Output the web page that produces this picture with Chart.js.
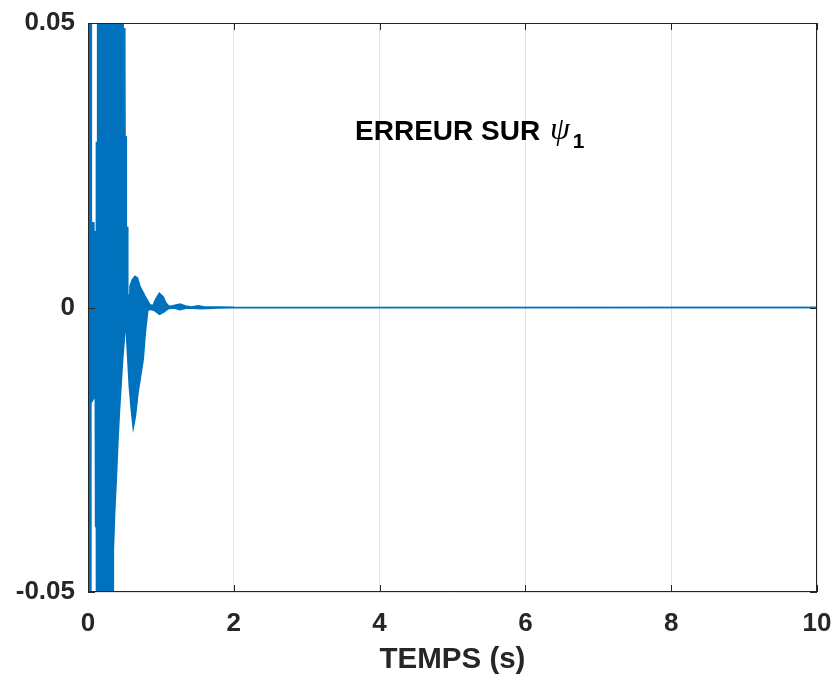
<!DOCTYPE html>
<html>
<head>
<meta charset="utf-8">
<script src="https://cdn.jsdelivr.net/npm/chart.js@4"></script>
<style>
	html, body { margin: 0; padding: 0; background: #ffffff; }
	#wrap { width: 839px; height: 681px; }
</style>
</head>
<body>
<div id="wrap"><canvas id="erreur_psi1"></canvas></div>
<script>
// enveloppe haute de l'erreur (temps en s, erreur)
const tempsHaut = [0, 0.042, 0.046, 0.080, 0.083, 0.112, 0.115, 0.128, 0.132, 0.480, 0.483, 0.505, 0.508, 0.523, 0.526, 0.543, 0.546, 0.565,
	0.576, 0.604, 0.645, 0.680, 0.713, 0.782, 0.850, 0.892, 0.919, 0.978, 1.030, 1.070, 1.110, 1.166, 1.262, 1.358, 1.420, 1.510, 1.600, 1.810, 2.000, 10];
const erreurHaut = [0.09, 0.09, 0.0149, 0.0149, 0.0133, 0.0133, 0.029, 0.029, 0.09, 0.09, 0.049, 0.049, 0.030, 0.030, 0.0141, 0.0141, 0.0022, 0.0022,
	0.0037, 0.0048, 0.0055, 0.0052, 0.0037, 0.0020, 0.0005, 0.0003, 0.0012, 0.0025, 0.0019, 0.0008, 0.0002, 0.0003, 0.0006, 0.0002, 0.0001, 0.0003, 0.0001, 0.0001, 0.00003, 0];

// enveloppe basse
const tempsBas = [0, 0.037, 0.040, 0.100, 0.104, 0.115, 0.118, 0.345, 0.348, 0.366, 0.390, 0.410, 0.430, 0.452, 0.475, 0.497, 0.520,
	0.540, 0.567, 0.594, 0.620, 0.650, 0.686, 0.720, 0.757, 0.786, 0.820, 0.860, 0.920, 0.980, 1.040, 1.100, 1.180, 1.260, 1.360, 1.550, 1.800, 2.000, 10];
const erreurBas = [-0.09, -0.09, -0.0168, -0.0155, -0.0385, -0.0385, -0.09, -0.09, -0.0426, -0.036, -0.0297, -0.0236, -0.0186, -0.014, -0.0092, -0.0057, -0.0025,
	-0.0078, -0.014, -0.018, -0.0212, -0.0192, -0.015, -0.0122, -0.0092, -0.0045, -0.0005, -0.0003, -0.0006, -0.0012, -0.0008, -0.0002, -0.0001, -0.0004, -0.0001, -0.0002, -0.0001, -0.00003, 0];

const xTicks = [0, 2, 4, 6, 8, 10];
const xTickLabels = ['0', '2', '4', '6', '8', '10'];
const yTicks = [-0.05, 0, 0.05];
const yTickLabels = ['-0.05', '0', '0.05'];

const titreX = 'TEMPS (s)';
const texteErreur = 'ERREUR SUR ';
const texteX = 3.663;   // position du texte en coordonnees des donnees
const texteY = 0.0294;

const bleu = '#0072BD';
const gris = '#262626';

function toPoints(xs, ys) {
	const pts = [];
	for (let i = 0; i < xs.length; i++) {
		pts.push({ x: xs[i], y: ys[i] });
	}
	return pts;
}

// boite autour des axes + graduations vers l'interieur + texte
const boxPlugin = {
	id: 'boxPlugin',
	afterDatasetsDraw(chart) {
		const { ctx, chartArea: { left, right, top, bottom }, scales: { x, y } } = chart;
		ctx.save();

		// texte "ERREUR SUR psi_1"
		const tx = x.getPixelForValue(texteX);
		const ty = y.getPixelForValue(texteY);
		ctx.fillStyle = '#000000';
		ctx.textBaseline = 'alphabetic';
		ctx.textAlign = 'left';
		ctx.font = 'bold 28px "Liberation Sans", Arial, sans-serif';
		ctx.fillText(texteErreur, tx, ty);
		let w = ctx.measureText(texteErreur).width + 2;
		ctx.font = 'italic 32px "Liberation Serif", "Times New Roman", serif';
		ctx.fillText('\u03C8', tx + w, ty - 1);
		w += ctx.measureText('\u03C8').width + 3;
		ctx.font = 'bold 21px "Liberation Sans", Arial, sans-serif';
		ctx.fillText('1', tx + w, ty + 8);

		// cadre
		ctx.strokeStyle = gris;
		ctx.lineWidth = 1;
		ctx.strokeRect(Math.round(left) + 0.5, Math.round(top) + 0.5, Math.round(right - left) - 1, Math.round(bottom - top) - 1);

		// graduations
		ctx.beginPath();
		xTicks.forEach(v => {
			const px = Math.round(x.getPixelForValue(v)) + 0.5;
			ctx.moveTo(px, bottom); ctx.lineTo(px, bottom - 7);
			ctx.moveTo(px, top); ctx.lineTo(px, top + 7);
		});
		yTicks.forEach(v => {
			const py = Math.round(y.getPixelForValue(v)) + 0.5;
			ctx.moveTo(left, py); ctx.lineTo(left + 7, py);
			ctx.moveTo(right, py); ctx.lineTo(right - 7, py);
		});
		ctx.stroke();
		ctx.restore();
	}
};

const ctx = document.getElementById('erreur_psi1').getContext('2d');
new Chart(ctx, {
	type: 'line',
	data: {
		datasets: [
			{
				data: toPoints(tempsHaut, erreurHaut),
				borderColor: bleu,
				borderWidth: 1.5,
				pointRadius: 0,
				tension: 0,
				fill: false,
				clip: 0
			},
			{
				data: toPoints(tempsBas, erreurBas),
				borderColor: bleu,
				borderWidth: 1.5,
				backgroundColor: bleu,
				pointRadius: 0,
				tension: 0,
				fill: '-1', // remplit entre les deux enveloppes
				clip: 0
			}
		]
	},
	options: {
		responsive: true,
		maintainAspectRatio: false,
		animation: false,
		events: [],
		layout: { padding: { left: 0, right: 22, top: 23, bottom: 0 } },
		plugins: {
			legend: { display: false },
			tooltip: { enabled: false }
		},
		scales: {
			x: {
				type: 'linear',
				min: 0,
				max: 10,
				afterBuildTicks: (axis) => { axis.ticks = xTicks.map(v => ({ value: v })); },
				afterFit: (axis) => {
					axis.height = 89;
					axis.paddingLeft = 0;
					axis.paddingRight = 0;
				},
				grid: { color: '#e3e3e3', lineWidth: 1, drawTicks: false },
				border: { display: false },
				ticks: {
					padding: 16,
					color: gris,
					font: { family: '"Liberation Sans", Arial, sans-serif', size: 26, weight: 'bold' },
					callback: (value) => xTickLabels[xTicks.indexOf(value)],
					maxRotation: 0
				},
				title: {
					display: true,
					text: titreX,
					color: gris,
					padding: { top: 4, bottom: 3 },
					font: { family: '"Liberation Sans", Arial, sans-serif', size: 29.5, weight: 'bold' }
				}
			},
			y: {
				type: 'linear',
				min: -0.05,
				max: 0.05,
				afterBuildTicks: (axis) => { axis.ticks = yTicks.map(v => ({ value: v })); },
				afterFit: (axis) => {
					axis.width = 88;
					axis.paddingTop = 0;
					axis.paddingBottom = 0;
				},
				grid: { color: '#e3e3e3', lineWidth: 1, drawTicks: false },
				border: { display: false },
				ticks: {
					padding: 13,
					color: gris,
					font: { family: '"Liberation Sans", Arial, sans-serif', size: 26, weight: 'bold' },
					callback: (value) => yTickLabels[yTicks.indexOf(value)]
				}
			}
		}
	},
	plugins: [boxPlugin]
});
</script>
</body>
</html>
